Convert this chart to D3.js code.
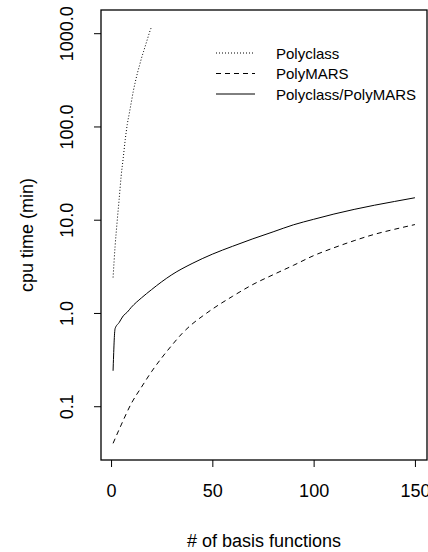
<!DOCTYPE html>
<html>
<head>
<meta charset="utf-8">
<script src="https://cdn.jsdelivr.net/npm/d3@7"></script>
<style>
  body { margin: 0; background: #fff; }
  text { font-family: "Liberation Sans", Arial, Helvetica, sans-serif; fill: #000; }
</style>
</head>
<body>
<div id="chart"></div>
<script>

// data (cpu time in minutes vs number of basis functions)
var polyclassN = [1, 2, 3, 4, 5, 6, 7, 8, 9, 10, 11, 12, 13, 14, 15, 16, 17, 18, 19, 20];
var polyclassT = [2.4, 5.2, 9.5, 16.6, 29.5, 45.7, 72, 105, 138, 182, 240, 302, 372, 447, 537, 631, 741, 871, 1023, 1175];

var polymarsN = [1, 5, 10, 15, 20, 25, 30, 35, 40, 45, 50, 60, 70, 80, 90, 100, 110, 120, 130, 140, 150];
var polymarsT = [0.040, 0.063, 0.107, 0.16, 0.235, 0.33, 0.45, 0.6, 0.76, 0.92, 1.10, 1.51, 2.02, 2.57, 3.24, 4.12, 5.0, 5.96, 6.97, 7.9, 8.87];

var comboN = [1, 2, 4, 6, 8, 10, 15, 20, 25, 30, 40, 50, 60, 70, 80, 90, 100, 110, 120, 130, 140, 150];
var comboT = [0.24, 0.68, 0.79, 0.93, 1.02, 1.15, 1.45, 1.78, 2.16, 2.57, 3.39, 4.27, 5.19, 6.24, 7.41, 8.81, 10.1, 11.5, 12.9, 14.3, 15.7, 17.2];

var xTicks = [0, 50, 100, 150];
var yTicks = [0.1, 1, 10, 100, 1000];
var yTickLabels = ["0.1", "1.0", "10.0", "100.0", "1000.0"];

var legendNames = ["Polyclass", "PolyMARS", "Polyclass/PolyMARS"];
var legendDash = ["1,2", "5,4", null];

// size of the svg
var W = 428, H = 552;
var margin = { top: 10, right: 1, bottom: 92, left: 101 },
    w = W - margin.left - margin.right,
    h = H - margin.top - margin.bottom;

var svg = d3.select('#chart')
    .append('svg')
    .attr('width', W)
    .attr('height', H)
    .append('g')
    .attr("transform", `translate(${margin.left},${margin.top})`);

var series = [
    { n: polyclassN, t: polyclassT, dash: legendDash[0] },
    { n: polymarsN, t: polymarsT, dash: legendDash[1] },
    { n: comboN, t: comboT, dash: legendDash[2] }
];

// R style 4% padding on both axes
var allN = [].concat(polyclassN, polymarsN, comboN);
var allT = [].concat(polyclassT, polymarsT, comboT);
var nMin = d3.min(allN), nMax = d3.max(allN);
var padX = (nMax - nMin) * 0.04;
var lMin = Math.log10(d3.min(allT)), lMax = Math.log10(d3.max(allT));
var padY = (lMax - lMin) * 0.04;

var x = d3.scaleLinear()
    .domain([nMin - padX, nMax + padX])
    .range([0, w]);

var y = d3.scaleLog()
    .domain([Math.pow(10, lMin - padY), Math.pow(10, lMax + padY)])
    .range([h, 0]);

var line = d3.line()
    .x(d => x(d[0]))
    .y(d => y(d[1]))
    .curve(d3.curveMonotoneX);

series.forEach(function (s) {
    svg.append('path')
        .datum(s.n.map((v, i) => [v, s.t[i]]))
        .attr('d', line)
        .attr('fill', 'none')
        .attr('stroke', '#000')
        .attr('stroke-width', 1)
        .attr('stroke-dasharray', s.dash);
});

// box
svg.append('rect')
    .attr('x', 0)
    .attr('y', 0)
    .attr('width', w)
    .attr('height', h)
    .attr('fill', 'none')
    .attr('stroke', '#000')
    .attr('stroke-width', 1.3);

// axes
var xAxis = d3.axisBottom(x).tickValues(xTicks).tickSize(7).tickPadding(17).tickFormat(d3.format('d'));
var gx = svg.append('g')
    .attr("transform", `translate(0,${h})`)
    .call(xAxis);
gx.select('.domain').remove();
gx.selectAll('text').attr('font-size', 18).attr('font-family', null);

var yAxis = d3.axisLeft(y).tickValues(yTicks).tickSize(7).tickFormat((d, i) => yTickLabels[i]);
var gy = svg.append('g').call(yAxis);
gy.select('.domain').remove();
gy.selectAll('text')
    .attr('font-size', 18)
    .attr('font-family', null)
    .attr('x', null).attr('dy', null)
    .attr('text-anchor', 'middle')
    .attr('transform', 'translate(-28,0) rotate(-90)');

// axis titles
svg.append('text')
    .attr('x', w / 2)
    .attr('y', 537)
    .attr('text-anchor', 'middle')
    .attr('font-size', 18)
    .text('# of basis functions');

svg.append('text')
    .attr('transform', `translate(-68,${h / 2}) rotate(-90)`)
    .attr('text-anchor', 'middle')
    .attr('font-size', 18)
    .text('cpu time (min)');

// legend
var legend = svg.append('g').attr('transform', 'translate(115,43)');
legendNames.forEach(function (name, i) {
    var ly = i * 20.5;
    legend.append('line')
        .attr('x1', 0).attr('x2', 39)
        .attr('y1', ly).attr('y2', ly)
        .attr('stroke', '#000')
        .attr('stroke-width', 1)
        .attr('stroke-dasharray', legendDash[i]);
    legend.append('text')
        .attr('x', 60)
        .attr('y', ly + 5.5)
        .attr('font-size', 15)
        .text(name);
});

</script>
</body>
</html>
